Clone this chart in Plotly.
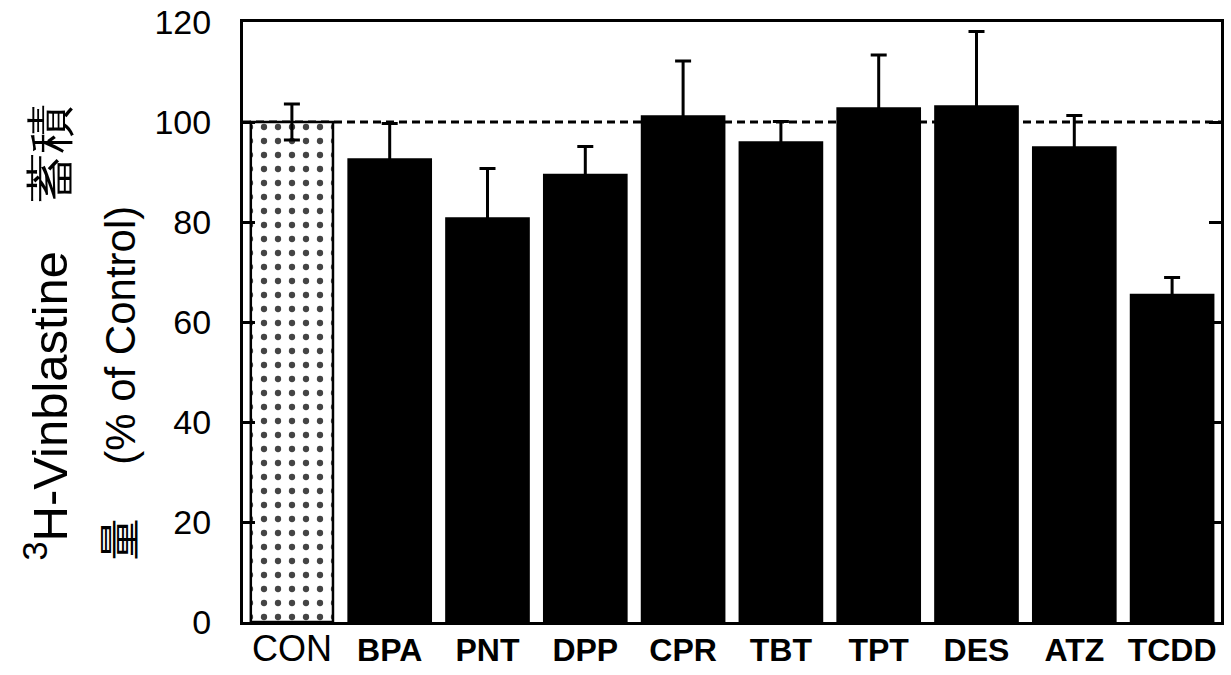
import plotly.graph_objects as go

categories = ["CON", "BPA", "PNT", "DPP", "CPR", "TBT", "TPT", "DES", "ATZ", "TCDD"]
values = [100.0, 92.5, 80.7, 89.4, 101.1, 95.9, 102.7, 103.1, 94.9, 65.4]
errors = [3.6, 7.2, 10.0, 5.7, 11.1, 4.2, 10.7, 15.0, 6.4, 3.5]
y_ticks = [0, 20, 40, 60, 80, 100, 120]
control_level = 100

W, H = 1231, 675
L, R, T, B = 243, 10, 22, 53

tick_text = []
for c in categories:
    if c == "CON":
        tick_text.append('<span style="font-weight:normal;font-size:36px">%s</span>' % c)
    else:
        tick_text.append("<b>%s</b>" % c)

colors = ["white" if c == "CON" else "black" for c in categories]
shapes_pat = ["." if c == "CON" else "" for c in categories]

fig = go.Figure()
fig.add_trace(go.Bar(
    x=categories, y=values,
    marker=dict(color=colors, line=dict(color="black", width=2.5),
                pattern=dict(shape=shapes_pat, fgcolor="black", fgopacity=1, size=14, solidity=0.16)),
    error_y=dict(type="data", array=errors, visible=True, color="black", thickness=3, width=8),
    width=0.84,
    showlegend=False,
))

fig.add_shape(type="line", xref="paper", yref="y", x0=0, x1=1, y0=control_level, y1=control_level,
              line=dict(color="black", width=3, dash="8px,5px"), layer="below")

def px_to_paper_x(px):
    return (px - L) / (W - L - R)

def py_to_paper_y(py):
    return (H - B - py) / (H - T - B)

fig.add_annotation(
    text="<sup>3</sup>H-Vinblastine　蓄積",
    xref="paper", yref="paper", x=px_to_paper_x(46), y=py_to_paper_y(563),
    xanchor="center", yanchor="bottom", textangle=-90, showarrow=False,
    font=dict(family="Liberation Sans, Arial", size=49, color="black"),
)
fig.add_annotation(
    text="量　 (% of Control)",
    xref="paper", yref="paper", x=px_to_paper_x(120), y=py_to_paper_y(563),
    xanchor="center", yanchor="bottom", textangle=-90, showarrow=False,
    font=dict(family="Liberation Sans, Noto Sans CJK JP, Arial", size=42, color="black"),
)

fig.update_layout(
    width=W, height=H,
    margin=dict(l=L, r=R, t=T, b=B, autoexpand=False),
    paper_bgcolor="white", plot_bgcolor="white",
    bargap=0.16,
)
fig.update_xaxes(
    tickmode="array", tickvals=categories, ticktext=tick_text,
    tickfont=dict(family="Liberation Sans, Arial", size=32, color="black"),
    showline=True, linecolor="black", linewidth=3, mirror=True,
    ticks="", showgrid=False, ticklabelstandoff=-2, automargin=False,
)
fig.update_yaxes(
    range=[0, 120], tickmode="array", tickvals=y_ticks,
    tickfont=dict(family="Liberation Sans, Arial", size=34, color="black"),
    showline=True, linecolor="black", linewidth=3, mirror="ticks",
    ticks="inside", ticklen=12, tickwidth=2.5, tickcolor="black",
    showgrid=False, zeroline=False, ticklabelstandoff=22, automargin=False,
)

fig.write_html("out.html")
